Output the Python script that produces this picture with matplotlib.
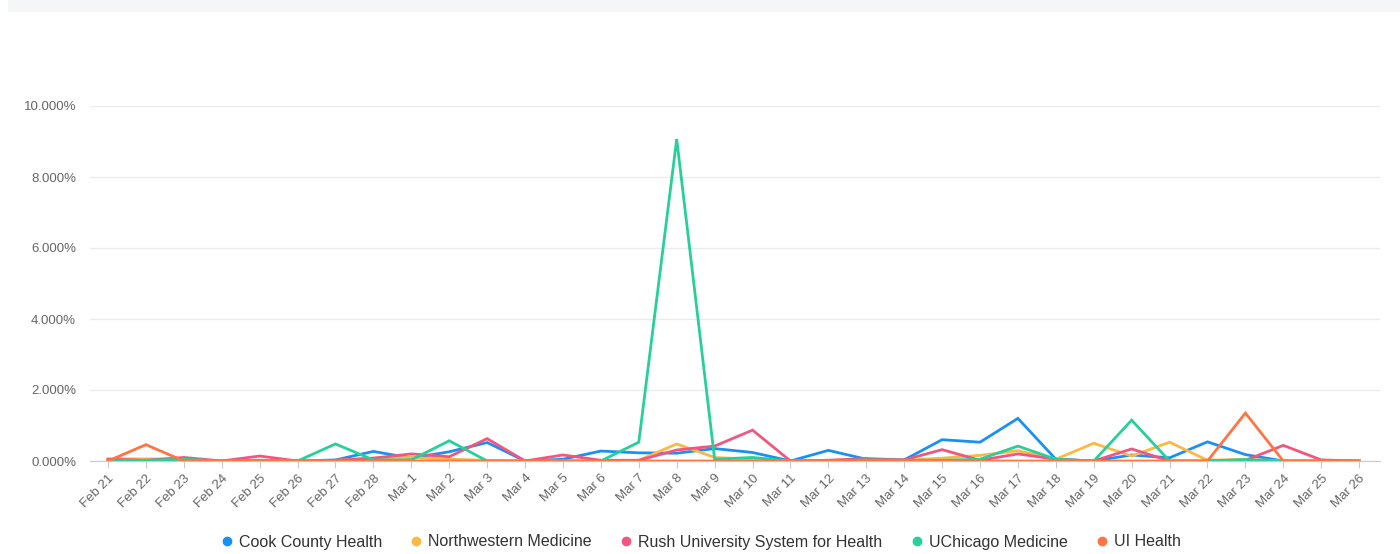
import matplotlib
matplotlib.use("Agg")
import matplotlib.pyplot as plt
from matplotlib.patches import Rectangle
from matplotlib.lines import Line2D
from matplotlib.ticker import FuncFormatter

plt.rcParams['font.family'] = ['Liberation Sans', 'DejaVu Sans']

dates = ["Feb 21", "Feb 22", "Feb 23", "Feb 24", "Feb 25", "Feb 26", "Feb 27", "Feb 28",
         "Mar 1", "Mar 2", "Mar 3", "Mar 4", "Mar 5", "Mar 6", "Mar 7", "Mar 8", "Mar 9",
         "Mar 10", "Mar 11", "Mar 12", "Mar 13", "Mar 14", "Mar 15", "Mar 16", "Mar 17",
         "Mar 18", "Mar 19", "Mar 20", "Mar 21", "Mar 22", "Mar 23", "Mar 24", "Mar 25", "Mar 26"]

cook = [0.02, 0.02, 0.05, 0.0, 0.02, 0.0, 0.03, 0.27, 0.08, 0.26, 0.52, 0.0, 0.05, 0.28, 0.23, 0.22, 0.35,
        0.24, 0.0, 0.30, 0.05, 0.03, 0.60, 0.53, 1.20, 0.05, 0.0, 0.17, 0.09, 0.54, 0.18, 0.0, 0.0, 0.0]
northwestern = [0.06, 0.06, 0.05, 0.0, 0.02, 0.0, 0.02, 0.08, 0.10, 0.05, 0.02, 0.0, 0.0, 0.0, 0.02, 0.48, 0.10,
                0.05, 0.0, 0.02, 0.03, 0.02, 0.08, 0.16, 0.29, 0.05, 0.50, 0.14, 0.53, 0.02, 0.05, 0.0, 0.0, 0.0]
rush = [0.05, 0.02, 0.10, 0.0, 0.14, 0.0, 0.02, 0.08, 0.20, 0.12, 0.63, 0.0, 0.17, 0.02, 0.02, 0.31, 0.42,
        0.87, 0.0, 0.02, 0.07, 0.03, 0.32, 0.02, 0.20, 0.05, 0.0, 0.34, 0.0, 0.0, 0.02, 0.44, 0.03, 0.0]
uchicago = [0.0, 0.02, 0.05, 0.0, 0.02, 0.0, 0.48, 0.03, 0.03, 0.57, 0.0, 0.0, 0.0, 0.0, 0.53, 9.07, 0.05,
            0.10, 0.0, 0.0, 0.03, 0.02, 0.02, 0.05, 0.42, 0.05, 0.0, 1.15, 0.0, 0.0, 0.04, 0.0, 0.0, 0.0]
ui_health = [0.0, 0.46, 0.0, 0.0, 0.0, 0.0, 0.0, 0.0, 0.0, 0.0, 0.0, 0.0, 0.0, 0.0, 0.0, 0.0, 0.0,
             0.0, 0.0, 0.0, 0.0, 0.0, 0.0, 0.0, 0.0, 0.0, 0.0, 0.0, 0.0, 0.0, 1.35, 0.0, 0.0, 0.0]

series_names = ["Cook County Health", "Northwestern Medicine", "Rush University System for Health",
                "UChicago Medicine", "UI Health"]
series_values = [cook, northwestern, rush, uchicago, ui_health]
colors = ["#1a90f0", "#fbb944", "#f2557f", "#27d09a", "#ff7440"]

fig = plt.figure(figsize=(14, 5.54), dpi=100)
fig.patches.append(Rectangle((8 / 1400, 1 - 12 / 554), 1 - 8 / 1400, 12 / 554,
                             transform=fig.transFigure, facecolor="#f5f6f7", edgecolor="none"))
ax = fig.add_axes([90 / 1400, 1 - 461 / 554, 1290 / 1400, 355 / 554])

x = list(range(len(dates)))
for name, vals, c in zip(series_names, series_values, colors):
    ax.plot(x, vals, color=c, lw=2, label=name, solid_joinstyle="miter")

ax.set_ylim(0, 10)
ax.set_xlim(-0.475, 33.55)
ax.set_yticks([0, 2, 4, 6, 8, 10])
ax.yaxis.set_major_formatter(FuncFormatter(lambda v, p: f"{v:.3f}%"))
ax.grid(axis="y", color="#ebebeb", lw=1)
ax.set_axisbelow(True)
ax.set_xticks(x)
ax.set_xticklabels(dates, rotation=45, ha="right", rotation_mode="anchor")
ax.tick_params(axis="y", length=0, labelsize=9.5, labelcolor="#666666", pad=10)
ax.tick_params(axis="x", length=5, color="#c9c9c9", labelsize=9.5, labelcolor="#666666", pad=3)
for s in ["top", "right", "left"]:
    ax.spines[s].set_visible(False)
ax.spines["bottom"].set_color("#c9c9c9")

handles = [Line2D([0], [0], marker="o", color="none", markerfacecolor=c, markeredgecolor=c,
                  markersize=6) for c in colors]
fig.legend(handles, series_names, loc="center", bbox_to_anchor=(0.5, 1 - 542 / 554), ncol=5,
           frameon=False, fontsize=11.5, handletextpad=0.3, columnspacing=1.7, labelcolor="#333333",
           handlelength=0.9)

fig.savefig("out.png", dpi=100)
